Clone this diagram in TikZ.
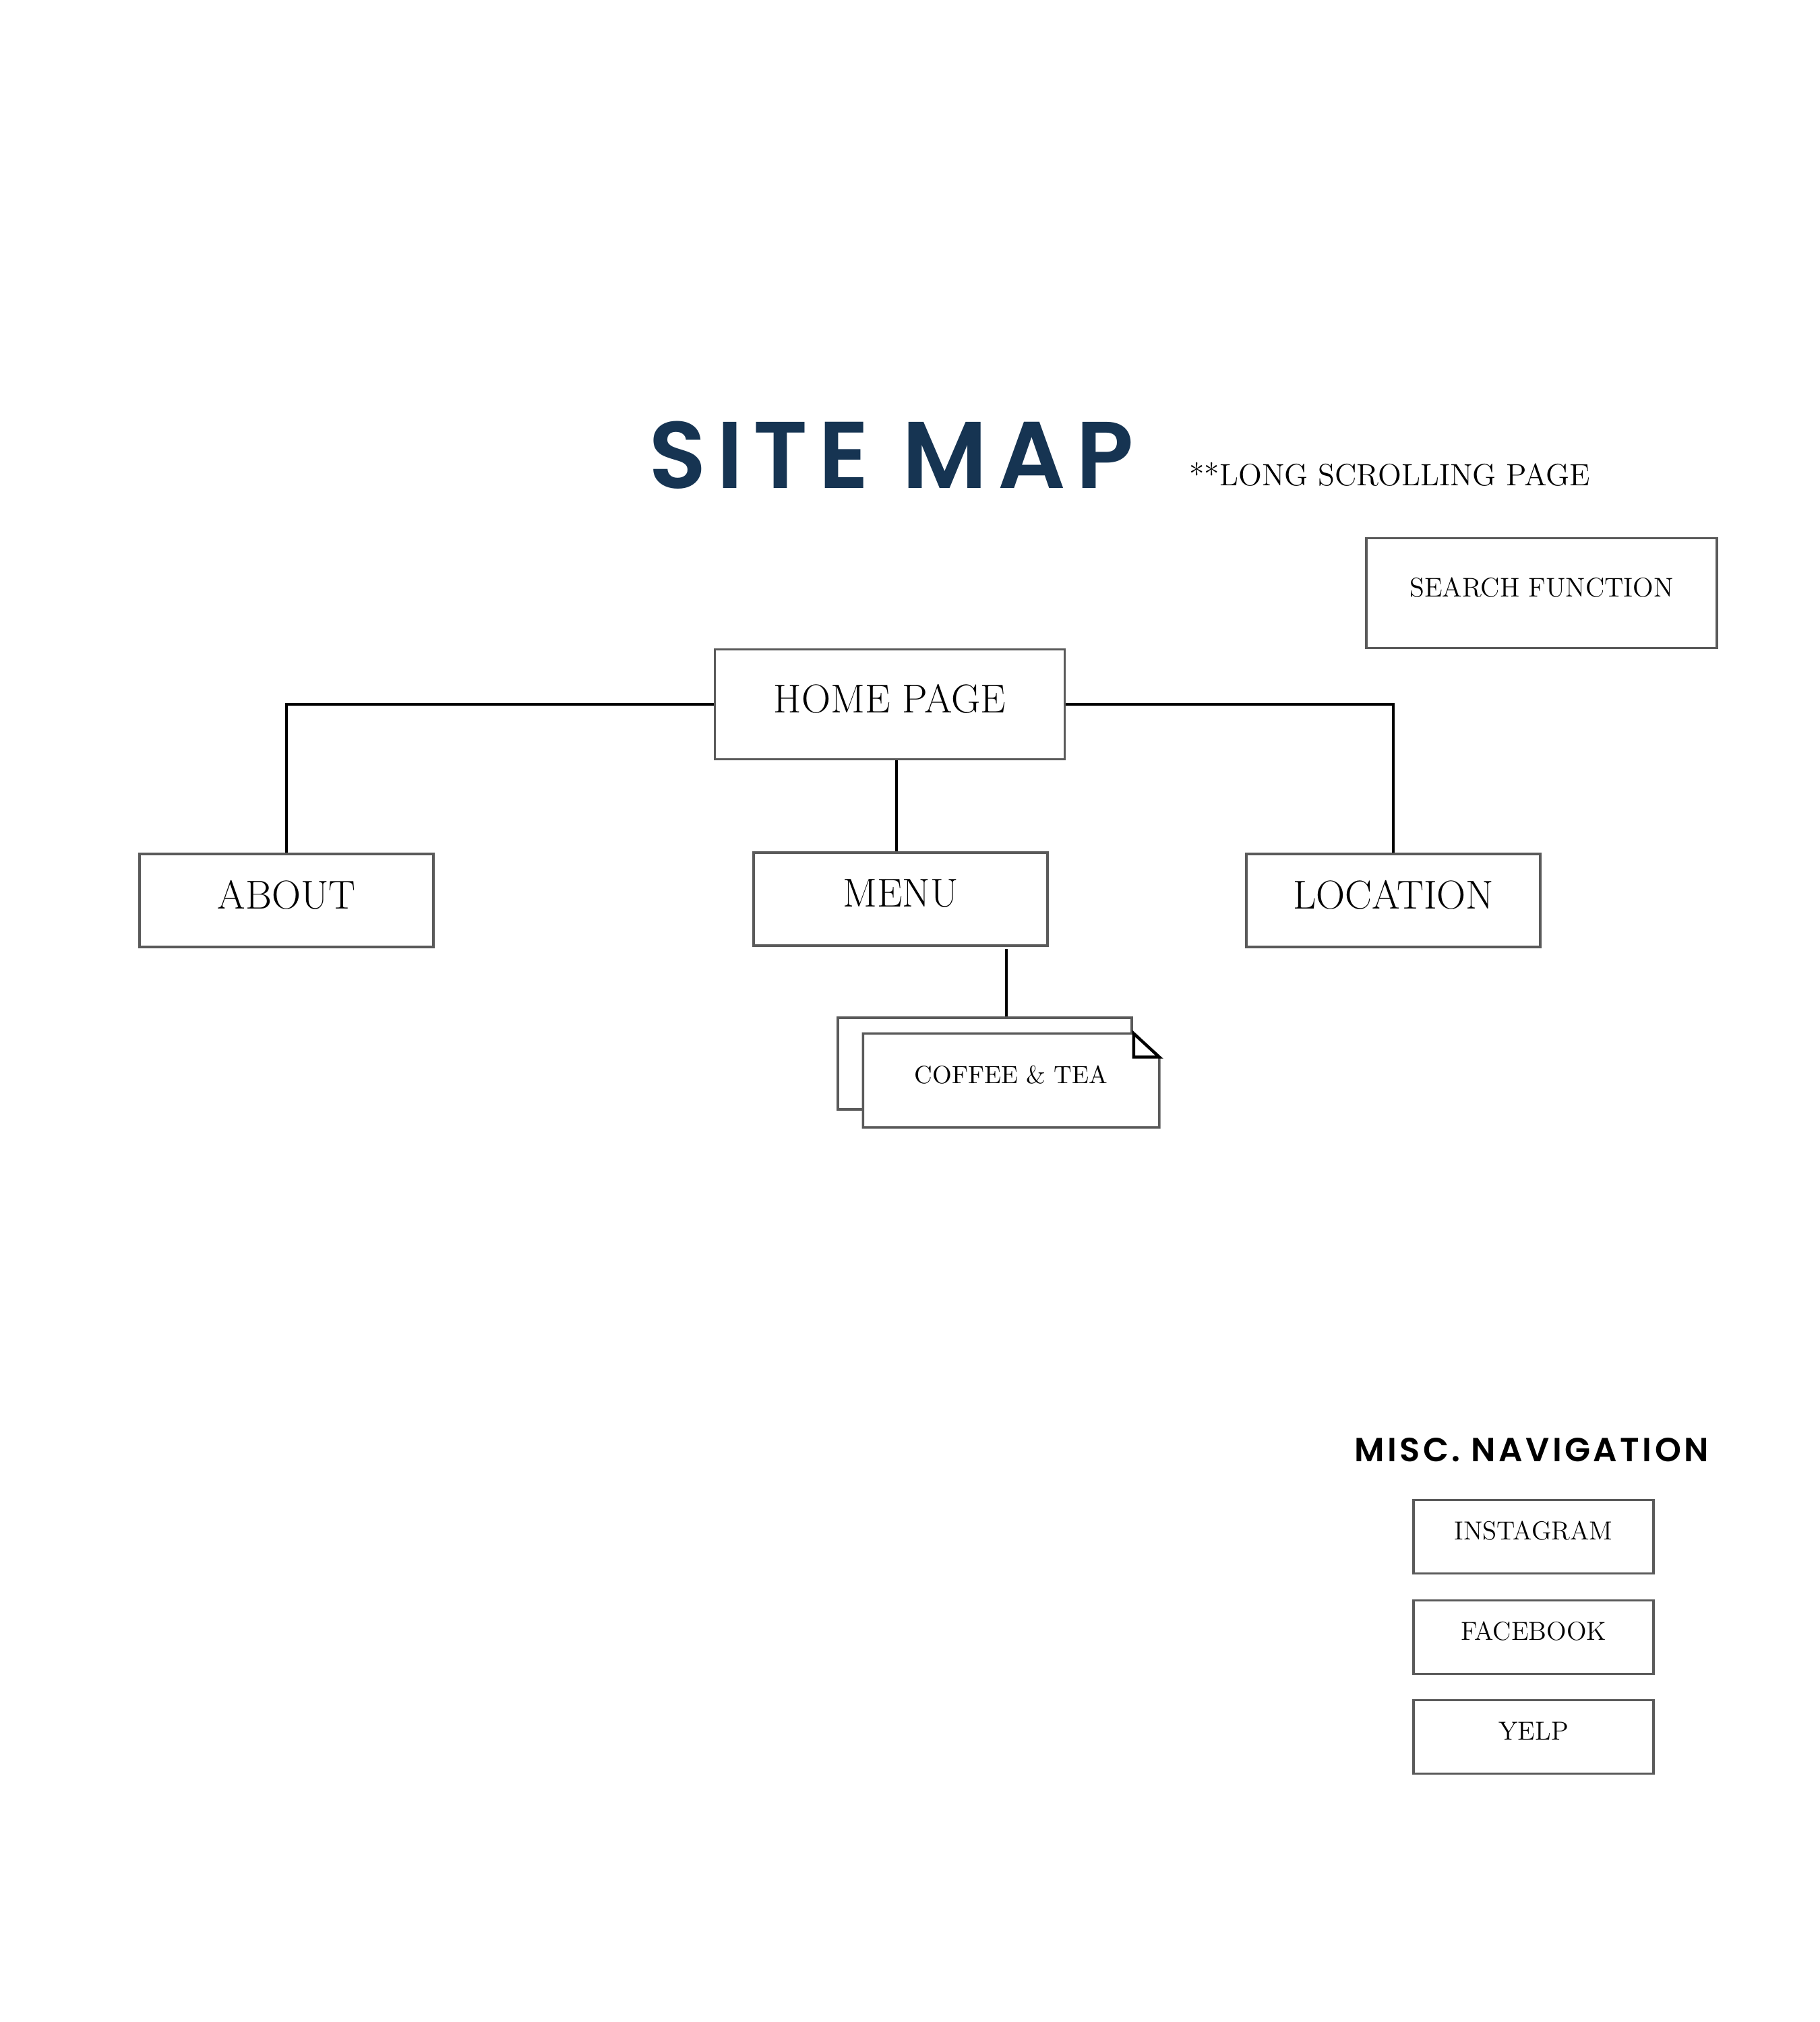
\documentclass[tikz,border=0pt]{standalone}
\usepackage{fontspec}
\newfontfamily\headfont{Poppins SemiBold}[LetterSpace=11]
\newfontfamily\subheadfont{Poppins SemiBold}[LetterSpace=9]
\definecolor{navy}{HTML}{163452}
\definecolor{boxgray}{HTML}{5A5A5A}

\begin{document}
\begin{tikzpicture}[
    font=\fontsize{11}{13}\selectfont,  % small box labels
    % Box styles:
    pagebox/.style={rectangle, draw=boxgray, line width=0.035cm, fill=white,
                    inner sep=0pt, text depth=0.18cm},
    mainpage/.style={pagebox, minimum width=4.36cm, minimum height=1.38cm,
                     font=\fontsize{17}{20}\selectfont},
    subpage/.style={pagebox, minimum width=4.36cm, minimum height=1.36cm,
                    font=\fontsize{10.5}{12}\selectfont},
    miscpage/.style={pagebox, minimum width=3.56cm, minimum height=1.09cm},
    % Line styles:
    link/.style={draw=black, line width=0.04cm},
    fold/.style={draw=black, line width=0.045cm, line join=miter},
]
\useasboundingbox (0,0) rectangle (27,-30);

% --- TITLE ---
\node[font=\headfont\fontsize{40}{45}\selectfont, text=navy]
      (title) at (13.22,-6.75) {SITE MAP};
\node[anchor=base west, font=\fontsize{13}{15}\selectfont]
      (note) at (17.52,-7.20) {**LONG SCROLLING PAGE};

% --- PAGES ---
\node[pagebox, minimum width=5.2cm, minimum height=1.63cm,
      font=\fontsize{11.4}{13}\selectfont] (search) at (22.87,-8.80) {SEARCH FUNCTION};
\node[mainpage, minimum width=5.19cm, minimum height=1.63cm]
      (home) at (13.20,-10.45) {HOME PAGE};
\node[mainpage] (about)    at (4.25,-13.36)  {ABOUT};
\node[mainpage] (menu)     at (13.36,-13.34) {MENU};
\node[mainpage] (location) at (20.67,-13.36) {LOCATION};

% Stacked sub page with folded corner
\node[subpage] (coffeeback) at (14.61,-15.78) {};
\node[subpage, draw=none] (coffee) at (15.00,-16.03) {COFFEE \& TEA};
\draw[draw=boxgray, line width=0.035cm] (coffee.north west)
      -- ([xshift=-0.38cm]coffee.north east) -- ([yshift=-0.35cm]coffee.north east)
      -- (coffee.south east) -- (coffee.south west) -- cycle;
\draw[fold] ([xshift=-0.38cm]coffee.north east) |- ([yshift=-0.35cm]coffee.north east) -- cycle;

% --- CONNECTORS ---
\draw[link] (home.west) -| (about.north);
\draw[link] (home.east) -| (location.north);
\draw[link] ([xshift=0.1cm]home.south) -- ([xshift=0.1cm]home.south |- menu.north);
\draw[link] ([xshift=-0.07cm, yshift=-0.03cm]menu.south -| coffee.north)
      -- ([xshift=-0.07cm]coffee.north |- coffeeback.north);

% --- MISC. NAVIGATION ---
\node[font=\subheadfont\fontsize{14.1}{17}\selectfont]
      (misc) at (22.72,-21.51) {MISC. NAVIGATION};
\node[miscpage] (instagram) at (22.75,-22.80) {INSTAGRAM};
\node[miscpage, below of=instagram, node distance=1.49cm] (facebook) {FACEBOOK};
\node[miscpage, below of=facebook, node distance=1.48cm]  (yelp)     {YELP};

\end{tikzpicture}
\end{document}
